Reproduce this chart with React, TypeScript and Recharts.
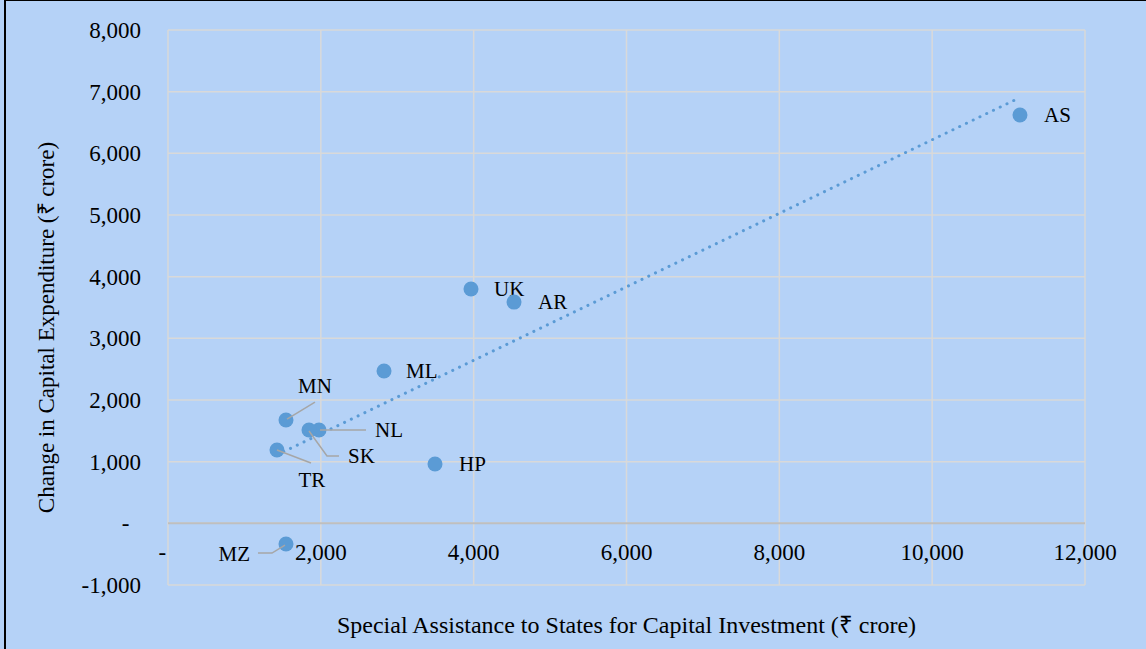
import React from "react";
import {
  CartesianGrid,
  ReferenceLine,
  Scatter,
  ScatterChart,
  XAxis,
  YAxis,
} from "recharts";

// state codes and their values (₹ crore)
const states = ["AS", "UK", "AR", "ML", "MN", "NL", "SK", "TR", "HP", "MZ"];
const specialAssistance = [11149, 3965, 4528, 2827, 1544, 1976, 1845, 1426, 3494, 1544];
const capexChange = [6621, 3799, 3588, 2470, 1675, 1513, 1513, 1189, 962, -336];

const xTicks = [0, 2000, 4000, 6000, 8000, 10000, 12000];
const yTicks = [-1000, 0, 1000, 2000, 3000, 4000, 5000, 6000, 7000, 8000];

// linear trendline end points
const trendEnds = [
  { x: 1426, y: 1110 },
  { x: 11149, y: 6905 },
];

const points = states.map((code, i) => ({
  code,
  x: specialAssistance[i],
  y: capexChange[i],
}));

const FONT = '"Liberation Serif", "Times New Roman", serif';
const BLUE = "#5b9bd5";
const LEADER = "#a6a6a6";

// label placement relative to the dot centre, with optional leader line
type LabelSpot = {
  dx: number;
  dy: number;
  anchor: "start" | "middle" | "end";
  leader?: [number, number][];
};
const labelSpots: Record<string, LabelSpot> = {
  AS: { dx: 24, dy: 0, anchor: "start" },
  UK: { dx: 23, dy: 0, anchor: "start" },
  AR: { dx: 24, dy: 0, anchor: "start" },
  ML: { dx: 22, dy: 0, anchor: "start" },
  HP: { dx: 24, dy: 0, anchor: "start" },
  MN: { dx: 29, dy: -34, anchor: "middle", leader: [[1, -1], [29, -18]] },
  NL: { dx: 56, dy: 0, anchor: "start", leader: [[1, 0], [47, 0]] },
  SK: { dx: 39, dy: 26, anchor: "start", leader: [[0, 1], [18, 26], [30, 26]] },
  TR: { dx: 35, dy: 30, anchor: "middle", leader: [[0, 0], [34, 13]] },
  MZ: { dx: -36, dy: 10, anchor: "end", leader: [[-1, 1], [-14, 9], [-28, 9]] },
};

const fmt = (v: number) => (v === 0 ? "-\u00A0\u00A0" : v.toLocaleString("en-US"));

function StateDot(props: any) {
  const { cx, cy, payload } = props;
  const spot = labelSpots[payload.code];
  return (
    <g>
      <circle cx={cx} cy={cy} r={7.5} fill={BLUE} />
      {spot.leader && (
        <polyline
          points={spot.leader.map(([a, b]) => `${cx + a},${cy + b}`).join(" ")}
          fill="none"
          stroke={LEADER}
          strokeWidth={1.5}
        />
      )}
      <text
        x={cx + spot.dx}
        y={cy + spot.dy + 7}
        textAnchor={spot.anchor}
        fontFamily={FONT}
        fontSize={21}
        fill="#000"
      >
        {payload.code}
      </text>
    </g>
  );
}

export default function App() {
  return (
    <div
      style={{
        position: "absolute",
        left: 0,
        top: 0,
        width: 1146,
        height: 649,
        background: "#b5d2f7",
        overflow: "hidden",
      }}
    >
      <div
        style={{
          position: "absolute",
          left: 4,
          top: 0,
          width: 1146,
          height: 649,
          borderLeft: "2px solid #000",
          borderTop: "1px solid #000",
          boxSizing: "border-box",
        }}
      />
      <div style={{ position: "absolute", left: 0, top: 0 }}>
        <ScatterChart
          width={1146}
          height={649}
          margin={{ top: 30, right: 61, bottom: 0, left: 0 }}
        >
          <CartesianGrid stroke="#d9d9d9" strokeWidth={1.5} />
          <XAxis
            type="number"
            dataKey="x"
            domain={[0, 12000]}
            ticks={xTicks}
            height={64}
            axisLine={false}
            tickLine={false}
            tickSize={0}
            tickMargin={0}
            tick={(p: any) => (
              <text
                x={p.x}
                y={p.y - 25}
                textAnchor="middle"
                fontFamily={FONT}
                fontSize={23}
                fill="#000"
              >
                {fmt(p.payload.value)}
              </text>
            )}
            label={(p: any) => {
              const vb = p.viewBox;
              return (
                <text
                  x={vb.x + vb.width / 2}
                  y={vb.y + 48}
                  textAnchor="middle"
                  fontFamily={FONT}
                  fontSize={24}
                  fill="#000"
                >
                  Special Assistance to States for Capital Investment (₹ crore)
                </text>
              );
            }}
          />
          <YAxis
            type="number"
            dataKey="y"
            domain={[-1000, 8000]}
            ticks={yTicks}
            width={168}
            axisLine={false}
            tickLine={false}
            tickSize={0}
            tickMargin={0}
            tick={(p: any) => (
              <text
                x={p.x - 27}
                y={p.y + 8}
                textAnchor="end"
                fontFamily={FONT}
                fontSize={23}
                fill="#000"
              >
                {fmt(p.payload.value)}
              </text>
            )}
            label={(p: any) => {
              const vb = p.viewBox;
              const cx = vb.x + 46;
              const cy = vb.y + vb.height / 2 + 20;
              return (
                <text
                  x={cx}
                  y={cy}
                  transform={`rotate(-90 ${cx} ${cy})`}
                  textAnchor="middle"
                  dominantBaseline="central"
                  fontFamily={FONT}
                  fontSize={23}
                  fill="#000"
                >
                  Change in Capital Expenditure (₹ crore)
                </text>
              );
            }}
          />
          <ReferenceLine y={0} stroke="#bfbfbf" strokeWidth={2} />
          <ReferenceLine
            segment={trendEnds}
            stroke={BLUE}
            strokeWidth={3}
            strokeDasharray="0.1 7.4"
            strokeLinecap="round"
          />
          <Scatter data={points} shape={StateDot} isAnimationActive={false} />
        </ScatterChart>
      </div>
    </div>
  );
}
